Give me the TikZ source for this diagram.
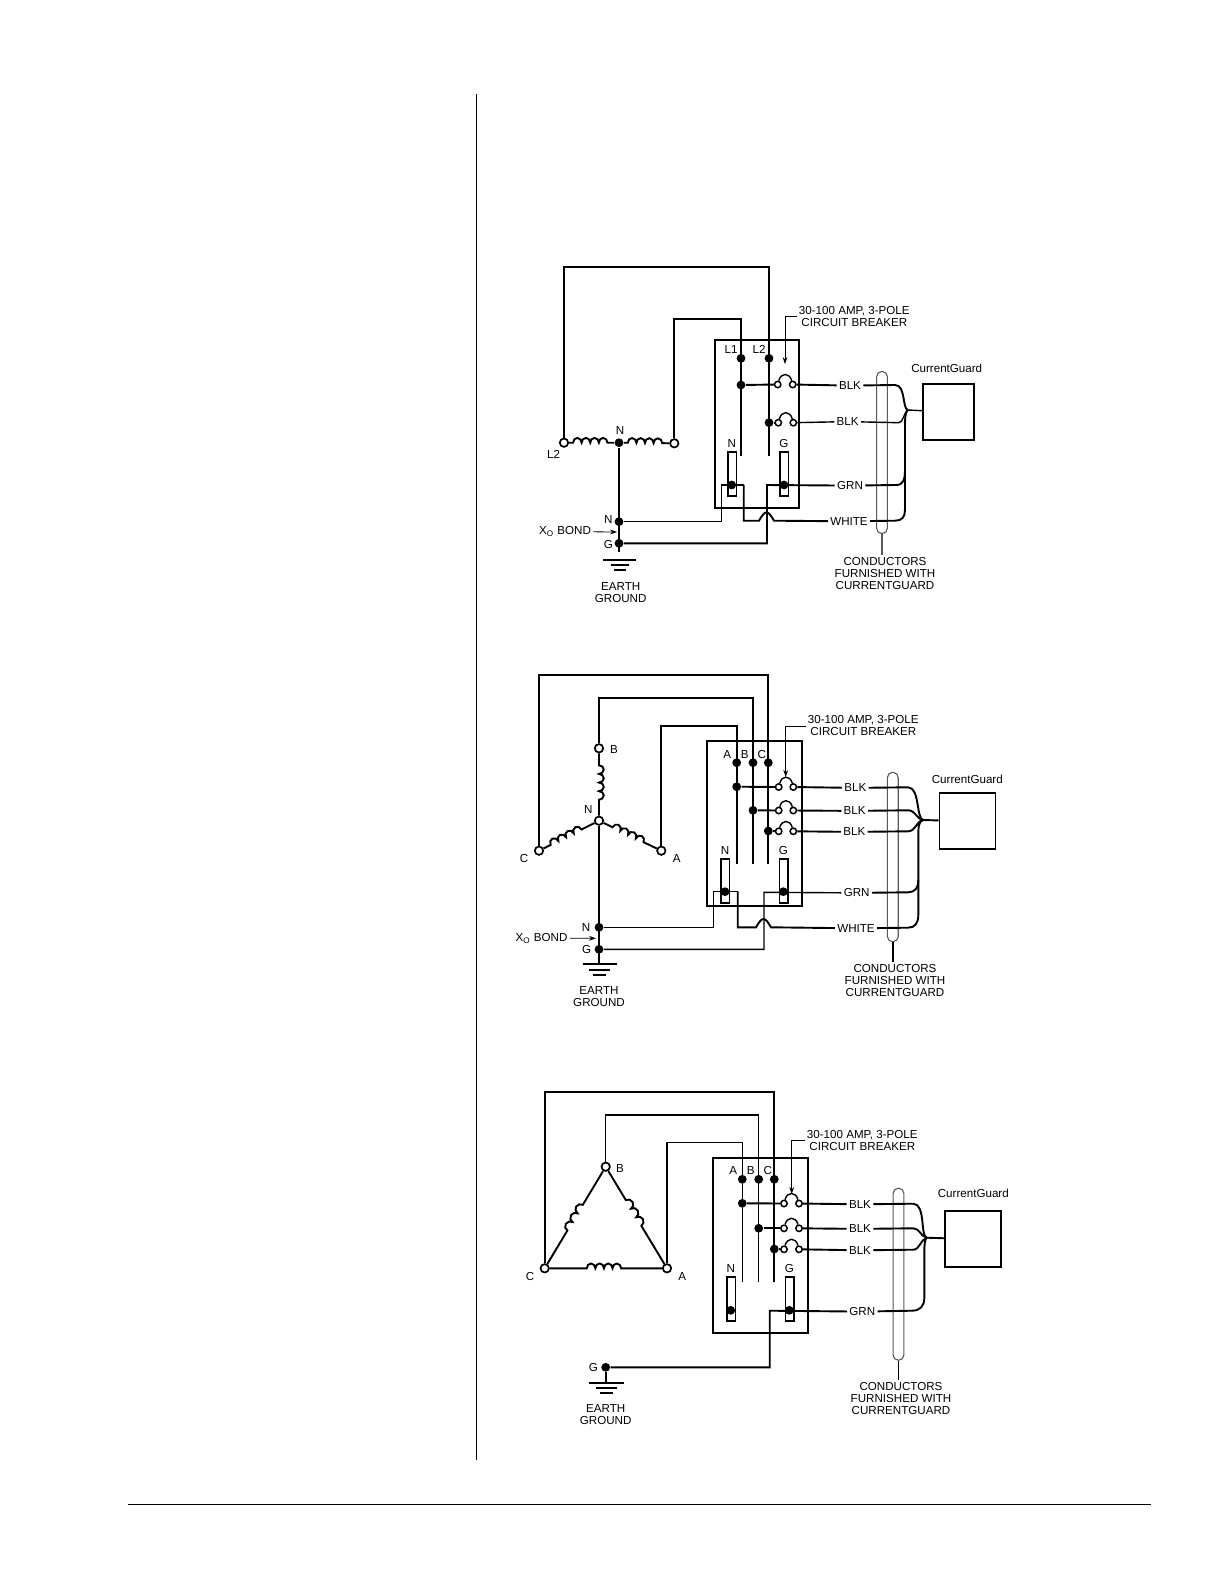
\documentclass[tikz,border=0pt]{standalone}
\usepackage{fontspec}
\setmainfont{Liberation Sans}
\usetikzlibrary{positioning,calc,arrows.meta,decorations.pathmorphing}
\tikzset{
    wire/.style={line width=0.95pt,line join=miter},
    thinwire/.style={line width=0.7pt},
    leader/.style={line width=0.4pt,-{Stealth[length=3.5pt,width=2.4pt]}},
    dot/.style={circle,fill=black,inner sep=0pt,minimum size=4.4pt},
    term/.style={circle,draw,line width=0.85pt,fill=white,inner sep=0pt,minimum size=4.2pt},
    brkterm/.style={circle,draw,line width=0.75pt,fill=white,inner sep=0pt,minimum size=3.2pt},
    lab/.style={font=\fontsize{5.8pt}{6pt}\selectfont,inner sep=1pt,align=center,yshift=-0.3pt},
    panel/.style={draw,line width=0.9pt,inner sep=0pt},
    tbar/.style={draw,line width=0.8pt,inner sep=0pt,minimum width=4.3pt,minimum height=22pt},
    cgbox/.style={draw,line width=0.9pt,inner sep=0pt,minimum width=28pt,minimum height=28pt},
    sheath/.style={draw=black!65,line width=0.55pt,rounded corners=2.6pt,inner sep=0pt,minimum width=5.4pt},
    winding/.style n args={3}{decorate,decoration={bumps,segment length=#1,amplitude=2.4pt,pre length=#2,post length=#3}},
    breaker/.style={thinwire,looseness=1.7}
}

\begin{document}
\begin{tikzpicture}[x=0.5pt,y=-0.5pt]
    \useasboundingbox (0,0) rectangle (1224,1584);

    % Page rules
    \coordinate (ruleTop) at (476.5,94);
    \coordinate (ruleBot) at (476.5,1460);
    \coordinate (footL) at (128,1504);
    \coordinate (footR) at (1151,1504);
    \draw [line width=0.6pt] (ruleTop) -- (ruleBot);
    \draw [line width=0.5pt] (footL) -- (footR);

    % ---- Single phase ----
    \node [panel,minimum width=42pt,minimum height=84pt] (panelA) at (757,424) {};
    \node [tbar] (barNA) at (732,473.7) {};
    \node [tbar] (barGA) at (784,473.7) {};
    \node [cgbox,minimum width=25.8pt] (cgA) at (948.5,412) {};
    \node [sheath,minimum height=81pt] (pillA) at (882,452.5) {};

    % Coil
    \node [term] (lineL2) at (564,442.7) {};
    \node [term] (lineL1) at (674.3,443.3) {};
    \node [dot] (midA) at (619,442.7) {};
    \draw [wire,winding={8.6pt}{2pt}{1pt}] (lineL2) -- (midA);
    \draw [wire,winding={8.6pt}{2pt}{1pt}] (midA) -- (lineL1);

    % Panel terminals
    \node [dot] (topL1) at (741,358.3) {};
    \node [dot] (topL2) at (769,358.3) {};
    \node [dot] (tapL1) at (741,385) {};
    \node [dot] (tapL2) at (769,422.7) {};
    \coordinate (endL1) at (741,455.7);
    \coordinate (endL2) at (769,455.7);
    \node [dot] (dotNA) at (731.7,485) {};
    \node [dot] (dotGA) at (784,485) {};
    \draw [wire] (lineL2) -- ++(0,-176) -| (endL2);
    \draw [wire] (lineL1) -- ++(0,-124.3) -| (endL1);

    % Breakers
    \node [brkterm] (brkAa) at (777.7,384.5) {};
    \node [brkterm] (brkAb) at (792.7,384.5) {};
    \node [brkterm] (brkBa) at (778.3,422.7) {};
    \node [brkterm] (brkBb) at (793.3,422.7) {};
    \draw [breaker] (brkAa) to[out=75,in=105] (brkAb);
    \draw [breaker] (brkBa) to[out=75,in=105] (brkBb);

    % Labels
    \node [lab] (txtBrkA) at (854.3,315.5) {30-100 AMP, 3-POLE\\CIRCUIT BREAKER};
    \coordinate (tipBrkA) at (785,364);
    \draw [leader] (txtBrkA.west) -| (tipBrkA);
    \node [lab] at (731,348.7) (txtL1) {L1};
    \node [lab] at (759,348.7) (txtL2) {L2};
    \node [lab] at (731.7,442.7) (txtNA) {N};
    \node [lab] at (784,442.7) (txtGA) {G};
    \node [lab] at (620,430) (txtMidA) {N};
    \node [lab] at (553.5,454) (txtCoilL2) {L2};
    \node [lab] at (946.7,367.3) (txtCgA) {CurrentGuard};
    \node [lab] (blkA) at (850,385) {BLK};
    \node [lab] (blkB) at (847.7,421) {BLK};
    \node [lab] (grnA) at (850,485) {GRN};
    \node [lab] (whtA) at (849,520.7) {WHITE};
    \node [lab] (condA) at (885,573.3) {CONDUCTORS\\FURNISHED WITH\\CURRENTGUARD};
    \draw [thinwire,draw=black!65] (pillA) -- (pillA |- condA.north);

    % Conductors
    \coordinate (jctA) at (908,410);
    \draw [wire] (tapL1) -- (brkAa);
    \draw [wire] (tapL2) -- (brkBa);
    \draw [wire] (brkAb) -- (blkA);
    \draw [thinwire] (brkBb) -- (blkB);
    \draw [wire] (blkA) -- (895,385) .. controls (906,385) and (902,409) .. (jctA);
    \draw [thinwire] (blkB) -- (899,422.7) .. controls (903,422.7) and (904,412) .. (jctA);
    \draw [wire] (grnA) -- (896,485) .. controls (903,485) and (905,480) .. (905,470);
    \draw [wire] (whtA) -- (895,520.7) .. controls (902,520.7) and (905,517) .. (905,510) -- (905,425) .. controls (905,415) and (906,411) .. (jctA);
    \draw [thinwire] (jctA) -- (cgA);

    % Neutral and ground
    \node [dot] (xoNA) at (619,521.7) {};
    \node [dot] (xoGA) at (619,543.3) {};
    \coordinate (gndA) at (619,551.7);
    \coordinate (hopAa) at (759,520.7);
    \coordinate (hopAb) at (774,520.7);
    \draw [wire] (midA) -- (gndA);
    \draw [thinwire] (xoNA) -| (721.7,485) -- (743.7,485);
    \draw [wire] (743.7,485) |- (hopAa) to[out=60,in=120,looseness=2.2] (hopAb) -- (whtA);
    \draw [wire] (xoGA) -| (767,485) -- (grnA);
    \draw [thinwire] (603,560) -- (636,560);
    \draw [wire] (611,565) -- (629,565);
    \draw [wire] (614,570) -- (626,570);
    \node [lab] at (608.3,519) (txtXnA) {N};
    \node [lab] at (608.3,544) (txtXgA) {G};
    \node [lab] at (565,531) (bondA) {X\textsubscript{O} BOND};
    \coordinate (tipBondA) at (617,532);
    \draw [leader] (bondA) -- (tipBondA);
    \node [lab] at (620.7,592) (earthA) {EARTH\\GROUND};

    % ---- Three phase wye ----
    \node [panel,minimum width=47.8pt,minimum height=82.5pt] (panelB) at (754.5,823.5) {};
    \node [tbar] (barNB) at (725,880.8) {};
    \node [tbar] (barGB) at (783.7,880.8) {};
    \node [cgbox] (cgB) at (967.5,821.3) {};
    \node [sheath,minimum height=84.7pt] (pillB) at (892.8,857) {};

    % Coils
    \node [term] (lineCB) at (539,850.7) {};
    \node [term] (lineBB) at (599,748.3) {};
    \node [term] (lineAB) at (661.3,850.7) {};
    \node [term] (starB) at (599,820.7) {};
    \draw [wire,winding={8.6pt}{6pt}{5.5pt}] (lineBB) -- (starB);
    \draw [wire,winding={8.6pt}{4pt}{5pt}] (lineCB) -- (starB);
    \draw [wire,winding={8.6pt}{5pt}{4pt}] (starB) -- (lineAB);

    % Panel terminals
    \node [dot] (topAB) at (736.7,762.7) {};
    \node [dot] (topBB) at (753,762.7) {};
    \node [dot] (topCB) at (768.3,762.7) {};
    \node [dot] (tapAB) at (736.7,786.7) {};
    \node [dot] (tapBB) at (753,810.3) {};
    \node [dot] (tapCB) at (768.3,831) {};
    \coordinate (endAB) at (736.7,864);
    \coordinate (endBB) at (753,864);
    \coordinate (endCB) at (768.3,864);
    \node [dot] (dotNB) at (725,891.7) {};
    \node [dot] (dotGB) at (783.3,891.7) {};
    \draw [wire] (lineCB) -- ++(0,-175.7) -| (endCB);
    \draw [wire] (lineBB) -- ++(0,-50) -| (endBB);
    \draw [wire] (lineAB) -- ++(0,-124.7) -| (endAB);

    % Breakers
    \node [brkterm] (brkCa) at (778.7,787) {};
    \node [brkterm] (brkCb) at (793.3,787) {};
    \node [brkterm] (brkDa) at (778.7,810.5) {};
    \node [brkterm] (brkDb) at (793.3,810.5) {};
    \node [brkterm] (brkEa) at (778.7,831.3) {};
    \node [brkterm] (brkEb) at (793.3,831.3) {};
    \draw [breaker] (brkCa) to[out=75,in=105] (brkCb);
    \draw [breaker] (brkDa) to[out=75,in=105] (brkDb);
    \draw [breaker] (brkEa) to[out=75,in=105] (brkEb);

    % Labels
    \node [lab] (txtBrkB) at (863.3,725.3) {30-100 AMP, 3-POLE\\CIRCUIT BREAKER};
    \coordinate (tipBrkB) at (785.7,777);
    \draw [leader] (txtBrkB.west) -| (tipBrkB);
    \node [lab] at (727.3,754) (txtAB) {A};
    \node [lab] at (744.7,754) (txtBB) {B};
    \node [lab] at (761.7,754) (txtCB) {C};
    \node [lab] at (725,850) (txtNB) {N};
    \node [lab] at (783.3,850) (txtGB) {G};
    \node [lab] at (614,749.3) (txtLineB) {B};
    \node [lab] at (524,857.7) (txtLineC) {C};
    \node [lab] at (676.7,857.7) (txtLineA) {A};
    \node [lab] at (588.3,809) (txtStarB) {N};
    \node [lab] at (967.3,779) (txtCgB) {CurrentGuard};
    \node [lab] (blkC) at (855.3,787.3) {BLK};
    \node [lab] (blkD) at (854.7,810.3) {BLK};
    \node [lab] (blkE) at (854.3,831.3) {BLK};
    \node [lab] (grnB) at (856.7,892.3) {GRN};
    \node [lab] (whtB) at (856,927.7) {WHITE};
    \node [lab] (condB) at (895,980) {CONDUCTORS\\FURNISHED WITH\\CURRENTGUARD};
    \draw [thinwire] (pillB) -- (pillB |- condB.north);

    % Conductors
    \coordinate (jctB) at (923.3,820);
    \draw [wire] (tapAB) -- (brkCa);
    \draw [wire] (tapBB) -- (brkDa);
    \draw [wire] (tapCB) -- (brkEa);
    \draw [wire] (brkCb) -- (blkC);
    \draw [wire] (brkDb) -- (blkD);
    \draw [wire] (brkEb) -- (blkE);
    \draw [wire] (blkC) -- (908,787.3) .. controls (920,787.3) and (916,819) .. (jctB);
    \draw [wire] (blkD) -- (908,810.3) .. controls (916,810.3) and (916,819) .. (jctB);
    \draw [wire] (blkE) -- (908,831.3) .. controls (916,831.3) and (916,821) .. (jctB);
    \draw [wire] (grnB) -- (908,892.3) .. controls (915,892.3) and (918.3,888) .. (918.3,880);
    \draw [wire] (whtB) -- (908,927.7) .. controls (915,927.7) and (918.3,923) .. (918.3,915) -- (918.3,835) .. controls (918.3,826) and (919,821) .. (jctB);
    \draw [wire] (jctB) -- (cgB);

    % Neutral and ground
    \node [dot] (xoNB) at (599,927.3) {};
    \node [dot] (xoGB) at (599,949.3) {};
    \coordinate (gndB) at (599,964.3);
    \coordinate (hopBa) at (756,927.3);
    \coordinate (hopBb) at (771,927.3);
    \draw [wire] (starB) -- (gndB);
    \draw [thinwire] (xoNB) -| (713.3,891.7) -- (737.7,891.7);
    \draw [wire] (737.7,891.7) |- (hopBa) to[out=60,in=120,looseness=2.2] (hopBb) -- (whtB);
    \draw [thinwire] (xoGB) -| (764,892.3) -- (grnB);
    \draw [wire] (582.7,964.3) -- (616.7,964.3);
    \draw [wire] (589.3,970) -- (610,970);
    \draw [wire] (592.7,975) -- (606,975);
    \node [lab] at (586,926.7) (txtXnB) {N};
    \node [lab] at (586.7,949.3) (txtXgB) {G};
    \node [lab] at (541.5,937.5) (bondB) {X\textsubscript{O} BOND};
    \coordinate (tipBondB) at (596,938.3);
    \draw [leader] (bondB) -- (tipBondB);
    \node [lab] at (599,996) (earthB) {EARTH\\GROUND};

    % ---- Three phase delta ----
    \node [panel,minimum width=47.5pt,minimum height=87.5pt] (panelC) at (760.2,1245.8) {};
    \node [tbar] (barNC) at (731,1298.7) {};
    \node [tbar] (barGC) at (789.7,1298.7) {};
    \node [cgbox] (cgC) at (973.3,1239.2) {};
    \node [sheath,minimum height=86pt] (pillC) at (898.5,1274.2) {};

    % Coils
    \node [term] (lineCC) at (544.7,1268.3) {};
    \node [term] (lineBC) at (605.7,1166.7) {};
    \node [term] (lineAC) at (667,1268.3) {};
    \draw [wire,winding={10pt}{19.5pt}{17pt}] (lineCC) -- (lineBC);
    \draw [wire,winding={10pt}{17pt}{19.5pt}] (lineBC) -- (lineAC);
    \draw [wire,winding={8.6pt}{18.5pt}{19pt}] (lineCC) -- (lineAC);

    % Panel terminals
    \node [dot] (topAC) at (742.3,1179.3) {};
    \node [dot] (topBC) at (758.7,1179.3) {};
    \node [dot] (topCC) at (774.3,1179.3) {};
    \node [dot] (tapAC) at (742.3,1203.3) {};
    \node [dot] (tapBC) at (758.7,1228.3) {};
    \node [dot] (tapCC) at (774.3,1249) {};
    \coordinate (endAC) at (742.3,1282.3);
    \coordinate (endBC) at (758.7,1282.3);
    \coordinate (endCC) at (774.3,1282.3);
    \node [dot] (dotNC) at (730.7,1310.3) {};
    \node [dot] (dotGC) at (789.3,1310.3) {};
    \draw [wire] (lineCC) -- ++(0,-176.6) -| (endCC);
    \draw [thinwire] (lineBC) -- ++(0,-51.7) -| (endBC);
    \draw [thinwire] (lineAC) -- ++(0,-125.6) -| (endAC);

    % Breakers
    \node [brkterm] (brkFa) at (784,1203.5) {};
    \node [brkterm] (brkFb) at (799,1203.5) {};
    \node [brkterm] (brkGa) at (784,1228.3) {};
    \node [brkterm] (brkGb) at (799,1228.3) {};
    \node [brkterm] (brkHa) at (784,1249.3) {};
    \node [brkterm] (brkHb) at (799,1249.3) {};
    \draw [breaker] (brkFa) to[out=75,in=105] (brkFb);
    \draw [breaker] (brkGa) to[out=75,in=105] (brkGb);
    \draw [breaker] (brkHa) to[out=75,in=105] (brkHb);

    % Labels
    \node [lab] (txtBrkC) at (862.3,1139.5) {30-100 AMP, 3-POLE\\CIRCUIT BREAKER};
    \coordinate (tipBrkC) at (791.7,1194);
    \draw [leader] (txtBrkC.west) -| (tipBrkC);
    \node [lab] at (733.3,1170) (txtAC) {A};
    \node [lab] at (750.7,1170) (txtBC) {B};
    \node [lab] at (767.7,1170) (txtCC) {C};
    \node [lab] at (730.7,1267.7) (txtNC) {N};
    \node [lab] at (789.3,1267.7) (txtGC) {G};
    \node [lab] at (620,1167.7) (txtLineBC) {B};
    \node [lab] at (530,1275.7) (txtLineCC) {C};
    \node [lab] at (682.3,1275.7) (txtLineAC) {A};
    \node [lab] at (973.3,1192.7) (txtCgC) {CurrentGuard};
    \node [lab] (blkF) at (860,1203.7) {BLK};
    \node [lab] (blkG) at (860,1228.3) {BLK};
    \node [lab] (blkH) at (860,1249.7) {BLK};
    \node [lab] (grnC) at (862.3,1311) {GRN};
    \node [lab] (condC) at (901,1398) {CONDUCTORS\\FURNISHED WITH\\CURRENTGUARD};
    \draw [thinwire] (pillC) -- (pillC |- condC.north);

    % Conductors
    \coordinate (jctC) at (926.7,1237.7);
    \draw [wire] (tapAC) -- (brkFa);
    \draw [wire] (tapBC) -- (brkGa);
    \draw [wire] (tapCC) -- (brkHa);
    \draw [wire] (brkFb) -- (blkF);
    \draw [wire] (brkGb) -- (blkG);
    \draw [wire] (brkHb) -- (blkH);
    \draw [wire] (blkF) -- (913,1203.7) .. controls (926,1203.7) and (920,1236) .. (jctC);
    \draw [wire] (blkG) -- (913,1228.3) .. controls (920,1228.3) and (920,1236) .. (jctC);
    \draw [wire] (blkH) -- (913,1249.7) .. controls (920,1249.7) and (920,1240) .. (jctC);
    \draw [wire] (grnC) -- (912,1310.7) .. controls (920,1310.7) and (924.3,1306) .. (924.3,1298) -- (924.3,1252) .. controls (924.3,1244) and (925,1239) .. (jctC);
    \draw [wire] (jctC) -- (cgC);

    % Ground
    \node [dot] (xoGC) at (605.7,1367.3) {};
    \coordinate (gndC) at (605.7,1382.7);
    \draw [wire] (xoGC) -- (gndC);
    \draw [wire] (xoGC) -| (769.7,1310.7) -- (grnC);
    \draw [wire] (589.3,1382.7) -- (624,1382.7);
    \draw [wire] (596,1387.7) -- (617.3,1387.7);
    \draw [wire] (600,1392.7) -- (612.7,1392.7);
    \node [lab] at (593.3,1367.3) (txtXgC) {G};
    \node [lab] at (605.7,1414) (earthC) {EARTH\\GROUND};
\end{tikzpicture}
\end{document}
